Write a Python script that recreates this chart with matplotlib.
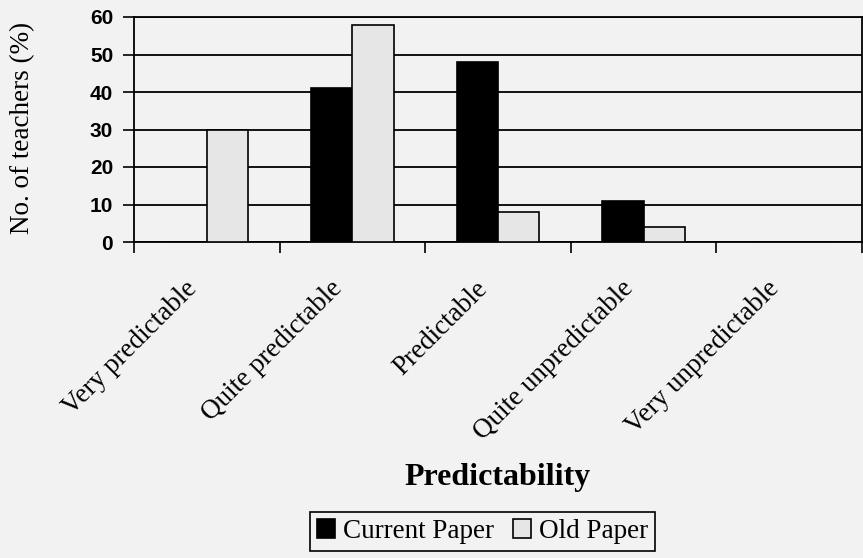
import matplotlib
matplotlib.use("Agg")
import matplotlib.pyplot as plt
import matplotlib.transforms as mtransforms
import numpy as np

categories = ["Very predictable", "Quite predictable", "Predictable",
              "Quite unpredictable", "Very unpredictable"]
current_paper = [0, 41, 48, 11, 0]
old_paper = [30, 58, 8, 4, 0]
y_ticks = [0, 10, 20, 30, 40, 50, 60]

BG = "#f2f2f2"
SERIF = ["Liberation Serif", "DejaVu Serif"]
SANS = ["Liberation Sans", "DejaVu Sans"]

fig = plt.figure(figsize=(8.63, 5.58), dpi=100, facecolor=BG)
W, H = 863, 558
ax = fig.add_axes([134 / W, 1 - 242 / H, 728 / W, 225 / H], facecolor=BG)

n = len(categories)
centers = np.arange(n) + 0.5
bw = 0.285
ax.bar(centers - bw, current_paper, width=bw, align="edge", color="black",
       edgecolor="black", linewidth=1.2, label="Current Paper", zorder=3)
ax.bar(centers, old_paper, width=bw, align="edge", color="#e6e6e6",
       edgecolor="black", linewidth=1.2, label="Old Paper", zorder=3)

ax.set_xlim(0, n)
ax.set_ylim(0, 60)
ax.set_yticks(y_ticks)
ax.yaxis.grid(True, color="black", linewidth=1.3)
ax.set_axisbelow(True)
for s in ax.spines.values():
    s.set_color("black")
    s.set_linewidth(1.3)

ax.tick_params(axis="y", direction="out", length=8, width=1.2, pad=7)
for lbl in ax.get_yticklabels():
    lbl.set_fontfamily(SANS)
    lbl.set_fontweight("bold")
    lbl.set_fontsize(15)

# category boundaries as minor ticks, labels centred at major positions
ax.set_xticks(np.arange(n + 1), minor=True)
ax.set_xticks(centers)
ax.set_xticklabels(categories, rotation=45, ha="right", rotation_mode="anchor",
                   va="center", fontfamily=SERIF, fontsize=19.5)
ax.tick_params(axis="x", which="major", length=0, pad=31)
ax.tick_params(axis="x", which="minor", direction="out", length=8, width=1.2)
offset = mtransforms.ScaledTranslation(-14 / 100, 0, fig.dpi_scale_trans)
for lbl in ax.get_xticklabels():
    lbl.set_transform(lbl.get_transform() + offset)

ax.set_ylabel("No. of teachers (%)", fontfamily=SERIF, fontsize=19.5)
ax.yaxis.set_label_coords((35 - 134) / 728, 0.507)

fig.text(498 / W, 1 - 478 / H, "Predictability", fontfamily=SERIF,
         fontsize=23, fontweight="bold", ha="center", va="center")

leg = fig.legend(loc="center", bbox_to_anchor=(482.5 / W, 1 - 531.5 / H),
                 ncol=2, fancybox=False, edgecolor="black", facecolor=BG,
                 framealpha=1, prop={"family": SERIF, "size": 19.5},
                 handlelength=0.65, handleheight=0.65, handletextpad=0.3,
                 columnspacing=0.7, borderpad=0.25, borderaxespad=0)
leg.get_frame().set_linewidth(1.2)

fig.savefig("out.png", dpi=100, facecolor=BG)
